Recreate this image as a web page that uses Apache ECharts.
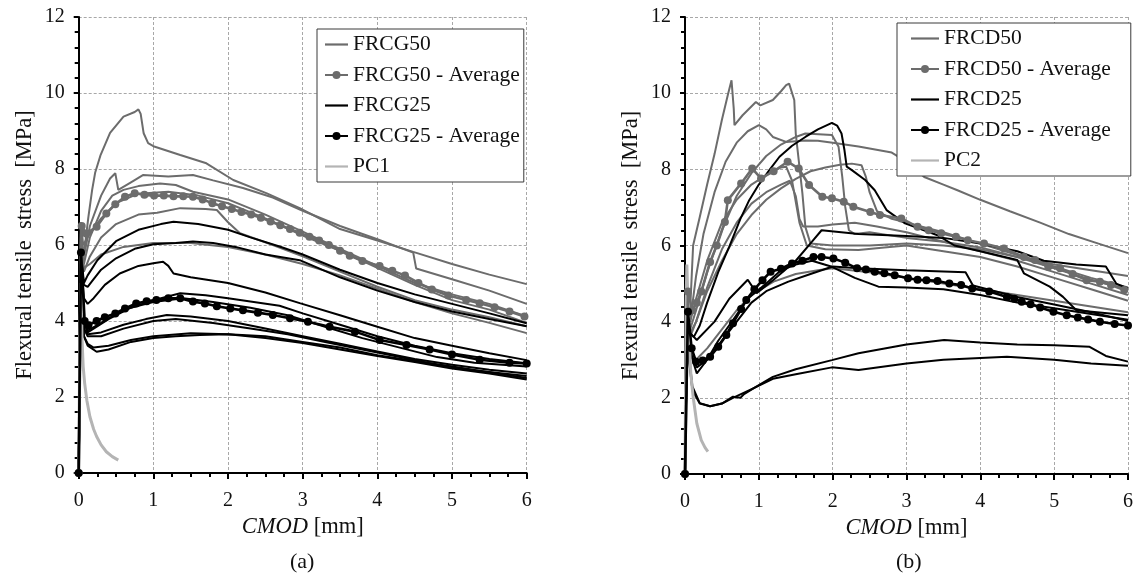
<!DOCTYPE html>
<html><head><meta charset="utf-8">
<script src="https://cdn.jsdelivr.net/npm/echarts@6/dist/echarts.min.js"></script>
<style>html,body{margin:0;padding:0;background:#fff}#c{width:1136px;height:579px}</style>
</head><body><div id="c"></div>
<script>
// ---------- Panel (a) data: [CMOD mm, stress MPa] ----------
const g50_a = [[0,0],[0.03,6.4],[0.06,5.6],[0.13,6.74],[0.18,7.45],[0.22,7.9],[0.29,8.35],[0.42,8.95],[0.6,9.38],[0.75,9.5],[0.8,9.57],[0.83,9.45],[0.87,8.94],[0.93,8.68],[1.0,8.6],[1.36,8.37],[1.71,8.15],[2.07,7.71],[2.52,7.36],[2.96,6.97],[3.5,6.42],[4.0,6.12],[4.48,5.82],[5.0,5.5],[5.5,5.22],[6.0,4.97]];
const g50_b = [[0,0],[0.03,6.3],[0.07,5.7],[0.15,6.5],[0.3,7.3],[0.42,7.75],[0.49,7.89],[0.53,7.45],[0.7,7.65],[0.86,7.84],[1.2,7.8],[1.53,7.84],[1.8,7.7],[2.2,7.5],[2.6,7.25],[3.0,6.9],[3.5,6.5],[4.0,6.15],[4.48,5.8],[4.52,5.38],[5.0,5.1],[5.5,4.8],[6.0,4.45]];
const g50_c = [[0,0],[0.03,6.2],[0.07,5.5],[0.15,6.2],[0.3,6.9],[0.45,7.3],[0.6,7.45],[0.8,7.55],[1.09,7.62],[1.3,7.58],[1.53,7.4],[2.0,7.2],[2.5,6.8],[3.0,6.35],[3.5,5.9],[4.0,5.45],[4.5,5.0],[5.0,4.7],[5.5,4.45],[6.0,4.12]];
const g50_d = [[0,0],[0.03,6.0],[0.07,5.3],[0.15,5.7],[0.3,6.2],[0.5,6.55],[0.8,6.8],[1.05,6.85],[1.36,6.97],[1.7,6.95],[1.85,6.92],[2.0,6.6],[2.16,6.31],[2.6,6.0],[3.0,5.7],[3.5,5.3],[4.0,4.9],[4.5,4.55],[5.0,4.3],[5.5,4.1],[6.0,3.86]];
const g50_e = [[0,0],[0.03,6.5],[0.07,5.4],[0.15,5.5],[0.3,5.75],[0.6,5.95],[1.0,6.05],[1.5,6.05],[2.0,5.95],[2.5,5.75],[3.0,5.5],[3.5,5.2],[4.0,4.85],[4.5,4.5],[5.0,4.2],[5.5,3.95],[6.0,3.68]];
const g50_f = [[0,0],[0.03,6.6],[0.06,6.0],[0.15,6.3],[0.3,6.7],[0.5,7.1],[0.8,7.35],[1.2,7.4],[1.6,7.3],[2.0,7.1],[2.5,6.7],[3.0,6.25],[3.5,5.85],[4.0,5.4],[4.5,4.95],[5.0,4.55],[5.5,4.3],[6.0,3.95]];
const g50_avg = [[0,0],[0.04,6.5],[0.1,6.3],[0.24,6.48],[0.37,6.83],[0.49,7.07],[0.62,7.27],[0.75,7.36],[0.88,7.32],[1.01,7.3],[1.14,7.3],[1.27,7.28],[1.4,7.28],[1.53,7.27],[1.66,7.2],[1.79,7.1],[1.92,7.02],[2.05,6.95],[2.18,6.87],[2.31,6.8],[2.44,6.72],[2.57,6.62],[2.7,6.52],[2.83,6.42],[2.96,6.32],[3.09,6.22],[3.22,6.12],[3.35,6.0],[3.5,5.85],[3.63,5.72],[3.8,5.58],[4.03,5.45],[4.2,5.32],[4.37,5.2],[4.55,5.0],[4.73,4.83],[4.95,4.67],[5.19,4.55],[5.37,4.47],[5.57,4.36],[5.77,4.25],[5.97,4.12]];
const g25_a = [[0,0],[0.03,5.8],[0.07,5.0],[0.12,5.2],[0.25,5.6],[0.5,6.1],[0.8,6.4],[1.1,6.55],[1.27,6.61],[1.6,6.55],[2.0,6.4],[2.3,6.2],[2.69,5.96],[3.0,5.75],[3.5,5.35],[4.0,5.0],[4.5,4.7],[5.0,4.45],[5.5,4.2],[6.0,3.94]];
const g25_b = [[0,0],[0.03,5.7],[0.07,4.95],[0.12,4.9],[0.2,5.1],[0.3,5.35],[0.5,5.65],[0.75,5.9],[1.0,6.02],[1.3,6.05],[1.53,6.09],[1.8,6.05],[2.1,5.95],[2.5,5.75],[2.96,5.6],[3.5,5.15],[4.0,4.8],[4.5,4.5],[5.0,4.25],[5.5,4.05],[6.0,3.86]];
const g25_c = [[0,0],[0.03,5.6],[0.07,4.6],[0.12,4.45],[0.2,4.6],[0.35,4.95],[0.55,5.25],[0.8,5.45],[1.0,5.52],[1.13,5.56],[1.2,5.45],[1.27,5.25],[1.5,5.15],[2.0,5.0],[2.5,4.75],[2.96,4.47],[3.5,4.15],[4.0,3.85],[4.5,3.55],[5.0,3.35],[5.5,3.15],[6.0,2.97]];
const g25_d = [[0,0],[0.03,5.5],[0.07,4.0],[0.12,3.7],[0.2,3.8],[0.4,4.05],[0.7,4.35],[1.0,4.55],[1.36,4.73],[1.7,4.68],[2.0,4.6],[2.69,4.4],[3.0,4.2],[3.5,3.9],[4.0,3.6],[4.5,3.35],[5.0,3.15],[5.5,3.0],[6.0,2.89]];
const g25_e = [[0,0],[0.03,5.4],[0.07,3.9],[0.12,3.75],[0.3,3.95],[0.6,4.3],[1.0,4.5],[1.4,4.6],[1.8,4.5],[2.3,4.35],[2.8,4.15],[3.3,3.85],[3.8,3.55],[4.3,3.3],[4.8,3.05],[5.3,2.9],[6.0,2.8]];
const g25_f = [[0,0],[0.03,5.2],[0.07,3.8],[0.12,3.65],[0.3,3.7],[0.6,3.9],[0.9,4.05],[1.18,4.16],[1.5,4.12],[2.0,4.0],[2.5,3.8],[3.0,3.6],[3.5,3.4],[4.0,3.2],[4.5,3.0],[5.0,2.85],[5.5,2.72],[6.0,2.62]];
const g25_g = [[0,0],[0.03,5.3],[0.07,3.8],[0.12,3.6],[0.3,3.6],[0.6,3.8],[1.0,4.0],[1.3,4.05],[1.8,3.95],[2.3,3.8],[2.8,3.65],[3.3,3.45],[3.8,3.25],[4.3,3.05],[4.8,2.85],[5.3,2.7],[6.0,2.55]];
const g25_h = [[0,0],[0.03,5.1],[0.07,3.6],[0.12,3.35],[0.24,3.19],[0.4,3.25],[0.7,3.45],[1.0,3.55],[1.3,3.6],[1.62,3.63],[2.0,3.65],[2.5,3.6],[3.0,3.45],[3.5,3.3],[4.0,3.1],[4.5,2.95],[5.0,2.8],[5.5,2.65],[6.0,2.5]];
const g25_i = [[0,0],[0.03,5.0],[0.07,3.6],[0.12,3.4],[0.2,3.3],[0.4,3.35],[0.7,3.5],[1.0,3.6],[1.5,3.68],[2.0,3.65],[2.5,3.55],[3.0,3.42],[3.5,3.25],[4.0,3.08],[4.5,2.92],[5.0,2.75],[5.5,2.62],[6.0,2.46]];
const g25_avg = [[0,0],[0.03,5.8],[0.08,4.0],[0.13,3.89],[0.24,4.0],[0.35,4.1],[0.49,4.2],[0.62,4.33],[0.77,4.46],[0.91,4.52],[1.04,4.55],[1.2,4.6],[1.36,4.6],[1.53,4.51],[1.69,4.46],[1.85,4.39],[2.03,4.33],[2.2,4.28],[2.4,4.22],[2.6,4.16],[2.83,4.07],[3.07,3.98],[3.36,3.85],[3.7,3.72],[4.03,3.5],[4.39,3.37],[4.7,3.25],[5.0,3.12],[5.37,2.98],[5.77,2.9],[6.0,2.88]];
const pc1 = [[0,0],[0.015,3.5],[0.03,5.0],[0.045,3.5],[0.06,2.8],[0.08,2.36],[0.11,1.9],[0.15,1.48],[0.2,1.15],[0.24,0.96],[0.3,0.74],[0.37,0.56],[0.45,0.43],[0.53,0.34]];

// ---------- Panel (b) data ----------
const d50_a = [[0,0],[0.03,4.5],[0.06,3.9],[0.11,6.0],[0.2,6.75],[0.3,7.6],[0.4,8.4],[0.5,9.3],[0.58,9.95],[0.63,10.34],[0.66,9.6],[0.67,9.16],[0.78,9.42],[0.96,9.77],[1.02,9.68],[1.19,9.82],[1.3,10.05],[1.37,10.21],[1.41,10.25],[1.48,9.82],[1.5,8.94],[1.55,8.07],[1.59,7.37],[1.63,6.49],[1.7,6.05],[2.0,6.0],[2.5,6.0],[3.0,6.05],[3.5,6.0],[4.0,5.9],[4.5,5.7],[5.0,5.5],[5.5,5.35],[6.0,5.2]];
const d50_b = [[0,0],[0.03,4.6],[0.07,4.0],[0.15,5.2],[0.25,6.3],[0.4,7.4],[0.55,8.2],[0.7,8.7],[0.85,9.0],[1.0,9.16],[1.1,9.05],[1.19,8.85],[1.37,8.72],[1.63,8.76],[1.8,8.75],[2.0,8.7],[2.35,8.6],[2.8,8.44],[3.0,8.2],[3.24,7.8],[3.5,7.6],[3.69,7.45],[4.0,7.2],[4.4,6.9],[4.81,6.6],[5.2,6.3],[5.6,6.05],[6.0,5.8]];
const d50_c = [[0,0],[0.03,4.4],[0.07,3.8],[0.15,4.3],[0.3,5.3],[0.5,6.4],[0.7,7.3],[0.9,7.9],[1.1,8.35],[1.3,8.65],[1.5,8.85],[1.63,8.94],[1.99,8.9],[2.08,8.59],[2.13,7.8],[2.17,7.02],[2.22,6.4],[2.3,6.3],[2.5,6.35],[3.0,6.2],[3.5,6.1],[4.0,5.95],[4.5,5.7],[5.0,5.4],[5.5,5.1],[6.0,4.85]];
const d50_d = [[0,0],[0.03,4.2],[0.07,3.7],[0.15,4.0],[0.3,4.8],[0.5,5.6],[0.7,6.3],[0.9,6.8],[1.1,7.2],[1.3,7.5],[1.5,7.75],[1.7,7.95],[1.9,8.05],[2.1,8.12],[2.26,8.15],[2.39,8.11],[2.45,7.8],[2.5,7.4],[2.6,6.9],[2.8,6.7],[3.0,6.6],[3.5,6.35],[4.0,6.05],[4.5,5.75],[5.0,5.45],[5.5,5.15],[6.0,4.9]];
const d50_e = [[0,0],[0.03,4.3],[0.07,3.6],[0.15,4.0],[0.3,4.9],[0.5,5.9],[0.7,6.6],[0.9,7.1],[1.1,7.4],[1.3,7.6],[1.42,7.7],[1.5,7.3],[1.55,6.7],[1.6,6.5],[1.8,6.5],[2.0,6.55],[2.3,6.6],[2.6,6.5],[3.0,6.35],[3.5,6.1],[4.0,5.85],[4.5,5.6],[5.0,5.3],[5.5,5.0],[6.0,4.7]];
const d50_f = [[0,0],[0.03,4.8],[0.07,4.0],[0.15,4.6],[0.3,5.6],[0.5,6.6],[0.7,7.2],[0.9,7.6],[1.1,7.85],[1.3,8.05],[1.37,8.07],[1.45,7.7],[1.55,6.6],[1.65,6.0],[1.9,5.9],[2.35,5.88],[2.7,5.95],[3.0,6.0],[3.5,5.85],[4.0,5.7],[4.5,5.45],[5.0,5.15],[5.5,4.85],[6.0,4.55]];
const d50_g = [[0,0],[0.03,4.3],[0.07,3.2],[0.15,3.0],[0.3,3.3],[0.5,3.8],[0.7,4.3],[0.9,4.7],[1.2,5.05],[1.5,5.25],[1.8,5.35],[2.0,5.4],[2.5,5.3],[3.0,5.15],[3.5,5.0],[4.0,4.85],[4.5,4.7],[5.0,4.55],[5.5,4.4],[6.0,4.25]];
const d50_avg = [[0,0],[0.04,4.79],[0.1,4.3],[0.16,4.5],[0.22,4.79],[0.34,5.57],[0.43,6.0],[0.54,6.62],[0.58,7.19],[0.76,7.63],[0.91,8.02],[1.03,7.76],[1.2,7.95],[1.39,8.2],[1.54,8.02],[1.68,7.59],[1.86,7.28],[1.99,7.24],[2.15,7.15],[2.28,7.02],[2.51,6.88],[2.64,6.8],[2.93,6.71],[3.15,6.49],[3.3,6.4],[3.47,6.32],[3.67,6.23],[3.83,6.14],[4.05,6.05],[4.32,5.92],[4.59,5.7],[4.74,5.62],[4.92,5.44],[5.08,5.4],[5.25,5.25],[5.44,5.09],[5.62,5.05],[5.77,4.96],[5.95,4.83]];
const d25_a = [[0,0],[0.03,4.2],[0.06,3.7],[0.12,3.6],[0.2,3.9],[0.3,4.5],[0.45,5.3],[0.6,5.97],[0.75,6.7],[0.87,7.19],[1.0,7.6],[1.15,8.0],[1.28,8.33],[1.45,8.62],[1.63,8.85],[1.8,9.05],[1.99,9.22],[2.06,9.15],[2.12,8.94],[2.16,8.5],[2.19,8.07],[2.26,7.98],[2.44,7.72],[2.57,7.45],[2.73,6.93],[2.98,6.58],[3.42,6.27],[3.65,6.0],[4.0,5.85],[4.5,5.62],[4.59,5.27],[4.94,4.92],[5.12,4.65],[5.3,4.3],[6.0,4.17]];
const d25_c = [[0,0],[0.03,4.2],[0.07,3.7],[0.16,3.52],[0.4,4.0],[0.6,4.6],[0.85,5.1],[0.97,4.75],[1.2,5.1],[1.5,5.6],[1.72,6.1],[1.85,6.4],[2.35,6.3],[3.0,6.25],[3.5,6.2],[4.0,6.05],[4.5,5.85],[4.86,5.6],[5.3,5.5],[5.7,5.45],[5.84,5.0],[6.0,4.87]];
const d25_d = [[0,0],[0.03,4.1],[0.07,3.2],[0.16,2.64],[0.3,3.0],[0.45,3.5],[0.65,4.04],[0.85,4.6],[1.1,5.0],[1.3,5.35],[1.5,5.5],[1.72,5.6],[1.99,5.44],[2.3,5.15],[2.62,4.92],[3.0,4.9],[3.5,4.85],[4.0,4.7],[4.5,4.5],[5.0,4.35],[5.5,4.2],[6.0,4.05]];
const d25_g = [[0,0],[0.03,4.0],[0.07,3.2],[0.16,2.8],[0.3,3.0],[0.5,3.5],[0.7,4.0],[0.9,4.5],[1.1,4.8],[1.4,5.05],[1.7,5.25],[2.0,5.45],[2.35,5.4],[3.0,5.35],[3.8,5.3],[3.9,4.95],[4.5,4.65],[5.0,4.45],[5.5,4.25],[6.0,4.02]];
const d25_e = [[0,0],[0.03,4.0],[0.06,3.0],[0.1,2.3],[0.2,1.86],[0.34,1.78],[0.5,1.85],[0.65,2.03],[0.75,2.0],[0.8,2.1],[0.96,2.29],[1.19,2.55],[1.5,2.75],[1.99,2.99],[2.35,3.17],[3.0,3.4],[3.51,3.52],[4.0,3.45],[4.5,3.4],[5.0,3.38],[5.48,3.34],[5.7,3.1],[6.0,2.95]];
const d25_f = [[0,0],[0.03,3.9],[0.06,2.9],[0.1,2.2],[0.2,1.85],[0.34,1.78],[0.5,1.85],[0.65,2.0],[0.96,2.28],[1.19,2.5],[1.5,2.62],[1.99,2.8],[2.35,2.73],[3.0,2.9],[3.5,3.0],[4.36,3.08],[5.0,3.0],[5.5,2.9],[6.0,2.84]];
const d25_avg = [[0,0],[0.04,4.26],[0.09,3.3],[0.15,2.95],[0.24,2.98],[0.34,3.08],[0.45,3.34],[0.56,3.65],[0.65,3.96],[0.76,4.33],[0.83,4.57],[0.94,4.85],[1.05,5.09],[1.16,5.31],[1.3,5.39],[1.45,5.53],[1.59,5.6],[1.74,5.7],[1.85,5.7],[2.01,5.66],[2.17,5.55],[2.33,5.4],[2.45,5.37],[2.57,5.31],[2.7,5.27],[2.84,5.22],[3.02,5.14],[3.15,5.1],[3.27,5.09],[3.42,5.07],[3.58,5.0],[3.74,4.96],[3.89,4.87],[4.12,4.79],[4.36,4.65],[4.46,4.6],[4.56,4.52],[4.68,4.46],[4.81,4.37],[4.99,4.26],[5.17,4.17],[5.32,4.11],[5.46,4.06],[5.62,4.0],[5.82,3.94],[6.0,3.9]];
const pc2 = [[0,0],[0.015,4.5],[0.025,5.5],[0.04,4.5],[0.06,3.4],[0.08,2.6],[0.11,2.03],[0.16,1.33],[0.22,0.89],[0.27,0.7],[0.31,0.59]];

const xTicks = [0,1,2,3,4,5,6];
const yTicks = [0,2,4,6,8,10,12];
const legendA = ['FRCG50','FRCG50 - Average','FRCG25','FRCG25 - Average','PC1'];
const legendB = ['FRCD50','FRCD50 - Average','FRCD25','FRCD25 - Average','PC2'];

const FONT = '"Liberation Serif","Times New Roman",serif';
const GRAY = '#6c6c6c', BLACK = '#000000', LIGHT = '#b4b4b4';

function indiv(name, data, gi, color, w) {
  return {type:'line', name, data, xAxisIndex:gi, yAxisIndex:gi, showSymbol:false, symbol:'none',
    lineStyle:{color, width:w||2}, itemStyle:{color}, z:2, silent:true};
}
function avg(name, data, gi, color) {
  return {type:'line', name, data, xAxisIndex:gi, yAxisIndex:gi, showSymbol:true, symbol:'circle', symbolSize:8,
    lineStyle:{color, width:2.6}, itemStyle:{color}, z:4, silent:true};
}
const series = [];
[g50_a,g50_b,g50_c,g50_d,g50_e,g50_f].forEach(d=>series.push(indiv('FRCG50',d,0,GRAY)));
[g25_a,g25_b,g25_c,g25_d,g25_e,g25_f,g25_g,g25_h,g25_i].forEach(d=>series.push(indiv('FRCG25',d,0,BLACK)));
series.push(avg('FRCG50 - Average',g50_avg,0,GRAY));
series.push(avg('FRCG25 - Average',g25_avg,0,BLACK));
series.push(indiv('PC1',pc1,0,LIGHT,3));
[d50_a,d50_b,d50_c,d50_d,d50_e,d50_f,d50_g].forEach(d=>series.push(indiv('FRCD50',d,1,GRAY)));
[d25_a,d25_c,d25_d,d25_g,d25_e,d25_f].forEach(d=>series.push(indiv('FRCD25',d,1,BLACK)));
series.push(avg('FRCD50 - Average',d50_avg,1,GRAY));
series.push(avg('FRCD25 - Average',d25_avg,1,BLACK));
series.push(indiv('PC2',pc2,1,LIGHT,3));

function xAx(gi){ return {type:'value', gridIndex:gi, min:xTicks[0], max:xTicks[xTicks.length-1], interval:1,
  name:'{i|CMOD} [mm]', nameLocation:'middle', nameGap:36,
  nameTextStyle:{fontFamily:FONT, fontSize:22.5, color:'#111', rich:{i:{fontFamily:FONT, fontSize:22.5, fontStyle:'italic', color:'#111'}}},
  axisLine:{show:true, onZero:false, lineStyle:{color:'#000', width:2}},
  axisTick:{show:true, length:6, lineStyle:{color:'#000', width:2}},
  minorTick:{show:true, splitNumber:4, length:4, lineStyle:{color:'#000', width:2}},
  splitLine:{show:true, lineStyle:{color:'#a8a8a8', width:1, type:[3,2]}},
  axisLabel:{fontFamily:FONT, fontSize:20, color:'#111', margin:18}}; }
function yAx(gi){ return {type:'value', gridIndex:gi, min:yTicks[0], max:yTicks[yTicks.length-1], interval:2,
  name:'Flexural tensile  stress  [MPa]', nameLocation:'middle', nameGap:42,
  nameTextStyle:{fontFamily:FONT, fontSize:22.5, color:'#111'},
  axisLine:{show:true, onZero:false, lineStyle:{color:'#000', width:2}},
  axisTick:{show:true, length:5, lineStyle:{color:'#000', width:2}},
  minorTick:{show:true, splitNumber:5, length:4, lineStyle:{color:'#000', width:2}},
  splitLine:{show:true, lineStyle:{color:'#a8a8a8', width:1, type:[3,2]}},
  axisLabel:{fontFamily:FONT, fontSize:20, color:'#111', margin:14}}; }

function legItems(names, w){
  const plain = 'path://M0,0H'+w+'V2.2H0Z';
  return names.map((n,i)=> (i===1||i===3) ? {name:n} : {name:n, icon:plain});
}
function leg(left, top, names, w, pad){ return {left, top, orient:'vertical', data:legItems(names,w), selectedMode:false,
  itemWidth:w, itemHeight:10, itemGap:7.5, padding:pad, symbolKeepAspect:true,
  borderColor:'#3a3a3a', borderWidth:1, backgroundColor:'#fff',
  textStyle:{fontFamily:FONT, fontSize:21.5, lineHeight:23, color:'#111'}}; }

const chart = echarts.init(document.getElementById('c'), null, {renderer:'canvas'});
chart.setOption({
  animation:false,
  backgroundColor:'#fff',
  grid:[{left:78.7, right:1136-526.7, top:17, bottom:579-473},{left:685, right:1136-1132, top:17, bottom:579-474}],
  xAxis:[xAx(0), xAx(1)],
  yAxis:[yAx(0), yAx(1)],
  legend:[leg(317,29,legendA,23,[4,4,4,7]), leg(897,23,legendB,28,[4,20,4,13])],
  graphic:[
    {type:'text', left:290, top:551, style:{text:'(a)', font:'22px '+FONT, fill:'#111'}},
    {type:'text', left:896, top:551, style:{text:'(b)', font:'22px '+FONT, fill:'#111'}}
  ],
  series
});
</script></body></html>
